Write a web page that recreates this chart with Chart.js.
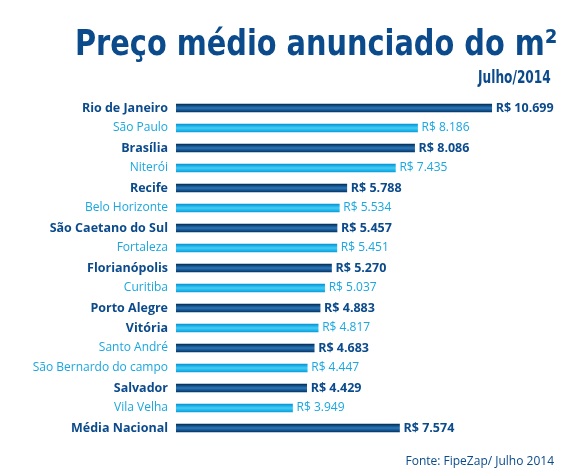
<!DOCTYPE html>
<html>
<head>
<meta charset="utf-8">
<script src="https://cdn.jsdelivr.net/npm/chart.js@4"></script>
<style>
  body { margin: 0; background: #fff; }
  #wrap { position: relative; width: 580px; height: 476px; overflow: hidden; }
  #chart { position: absolute; left: 0; top: 0; }
  .txt { position: absolute; color: #0b4a8b; white-space: nowrap; line-height: 1; }
  #title { left: 75px; top: 23px; font: bold 35px "DejaVu Sans Condensed", sans-serif; transform-origin: 0 0; }
  #sub { left: 478px; top: 66px; font: bold 18px "DejaVu Sans Condensed", sans-serif; transform-origin: 0 0; }
  #foot { right: 26px; top: 452px; font: 12px "Open Sans", sans-serif; }
</style>
</head>
<body>
<div id="wrap">
  <canvas id="chart" width="580" height="476"></canvas>
  <div class="txt" id="title">Preço médio anunciado do m²</div>
  <div class="txt" id="sub">Julho/2014</div>
  <div class="txt" id="foot">Fonte: FipeZap/ Julho 2014</div>
</div>
<script>
const cities = ["Rio de Janeiro", "São Paulo", "Brasília", "Niterói", "Recife", "Belo Horizonte",
  "São Caetano do Sul", "Fortaleza", "Florianópolis", "Curitiba", "Porto Alegre", "Vitória",
  "Santo André", "São Bernardo do campo", "Salvador", "Vila Velha", "Média Nacional"];
const prices = [10699, 8186, 8086, 7435, 5788, 5534, 5457, 5451, 5270, 5037, 4883, 4817,
  4683, 4447, 4429, 3949, 7574];

const navy = "#0b4a8b";
const cyan = "#1aa6df";

// squeeze the headings to the width they have in the picture
function fitWidth(id, left, right) {
  const el = document.getElementById(id);
  const w = el.offsetWidth;
  const k = (right - left) / w;
  el.style.left = left + "px";
  el.style.transform = "scaleX(" + k + ")";
}
fitWidth("title", 75, 557);
fitWidth("sub", 478, 551);

function isDark(i) { return i % 2 === 0; }
// the category names of Vitória and Santo André swap tones in the original
function labelDark(i) {
  if (i === 11) return true;
  if (i === 12) return false;
  return isDark(i);
}

function fmt(v) {
  const s = String(v);
  return "R$ " + s.slice(0, s.length - 3) + "." + s.slice(-3);
}

function barFill(ctx) {
  const chart = ctx.chart;
  const y = chart.scales.y ? chart.scales.y.getPixelForValue(ctx.dataIndex) : NaN;
  if (isNaN(y)) return isDark(ctx.dataIndex) ? navy : cyan;
  const g = chart.ctx.createLinearGradient(0, y - 4, 0, y + 4);
  if (isDark(ctx.dataIndex)) {
    g.addColorStop(0, "#022d58");
    g.addColorStop(0.5, "#2a78b8");
    g.addColorStop(1, "#04356a");
  } else {
    g.addColorStop(0, "#0494d4");
    g.addColorStop(0.5, "#44ccf6");
    g.addColorStop(1, "#08a0dd");
  }
  return g;
}

const valueLabels = {
  id: "valueLabels",
  afterDatasetsDraw(chart) {
    const c = chart.ctx;
    const meta = chart.getDatasetMeta(0);
    c.save();
    c.textBaseline = "middle";
    c.textAlign = "left";
    meta.data.forEach((bar, i) => {
      if (isDark(i)) {
        c.font = "bold 12.5px 'Open Sans', sans-serif";
        c.fillStyle = navy;
      } else {
        c.font = "12px 'Open Sans', sans-serif";
        c.fillStyle = cyan;
      }
      c.fillText(fmt(prices[i]), bar.x + 4, bar.y);
    });
    c.restore();
  }
};

new Chart("chart", {
  type: "bar",
  data: {
    labels: cities,
    datasets: [{
      data: prices,
      backgroundColor: barFill,
      barThickness: 8,
      borderWidth: 0
    }]
  },
  options: {
    indexAxis: "y",
    responsive: false,
    animation: false,
    layout: { padding: { top: 98, bottom: 38, right: 44, left: 0 } },
    scales: {
      x: { display: false, min: 0, max: 12200 },
      y: {
        afterFit(scale) { scale.width = 176; },
        grid: { display: false, drawTicks: false },
        border: { display: false },
        ticks: {
          padding: 8,
          color: (ctx) => labelDark(ctx.index) ? navy : cyan,
          font: (ctx) => labelDark(ctx.index)
            ? { family: "'Open Sans', sans-serif", size: 12.5, weight: "bold" }
            : { family: "'Open Sans', sans-serif", size: 12, weight: "normal" }
        }
      }
    },
    plugins: { legend: { display: false }, tooltip: { enabled: false } }
  },
  plugins: [valueLabels]
});
</script>
</body>
</html>
